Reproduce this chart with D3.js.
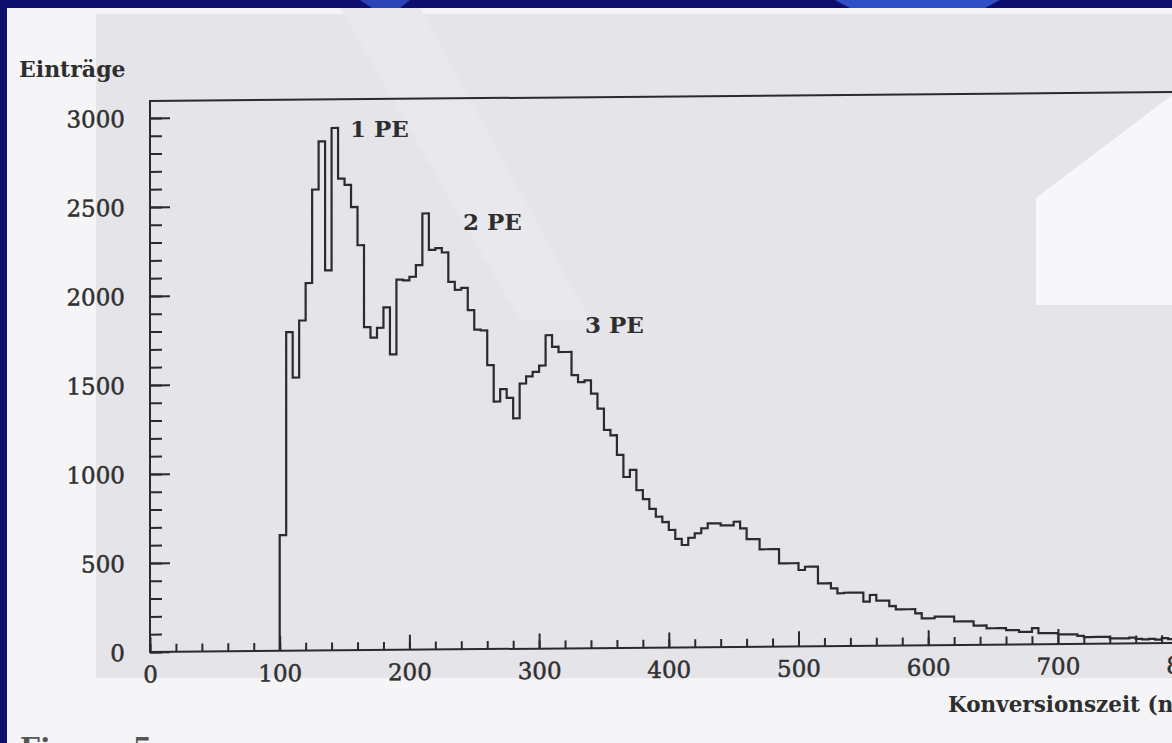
<!DOCTYPE html>
<html>
<head>
<meta charset="utf-8">
<script src="https://cdn.jsdelivr.net/npm/d3@7"></script>
<style>
  html, body { margin: 0; padding: 0; background: #f4f4f6; }
  svg { display: block; }
  .axis path { display: none; }
  .axis line { stroke: #2a2a2a; stroke-width: 2px; }
  .axis text { font-family: "DejaVu Serif", serif; font-size: 23px; fill: #303030;
               stroke: #303030; stroke-width: 0.5px; }
  .label { font-family: "DejaVu Serif", serif; font-weight: bold; fill: #2e2e2e; }
</style>
</head>
<body>
<div id="chart"></div>
<script>
// histogram: 5-unit bins starting at 100 (Konversionszeit), counts = Einträge
const binStart = 100;
const binWidth = 5;
const counts = [
  650, 1790, 1535, 1855, 2065, 2590, 2860, 2135, 2935, 2650,
  2615, 2490, 2275, 1815, 1755, 1810, 1925, 1660, 2080, 2075,
  2095, 2160, 2450, 2245, 2255, 2230, 2065, 2020, 2030, 1905,
  1795, 1790, 1595, 1390, 1460, 1410, 1295, 1490, 1530, 1555,
  1590, 1760, 1695, 1665, 1665, 1535, 1495, 1505, 1430, 1345,
  1225, 1195, 1085, 960, 1000, 885, 835, 780, 735, 705,
  660, 610, 575, 615, 640, 668, 695, 695, 683, 683,
  703, 666, 605, 605, 547, 547, 547, 467, 467, 467,
  429, 447, 447, 353, 353, 324, 296, 299, 299, 299,
  248, 285, 253, 253, 222, 203, 203, 203, 180, 151,
  151, 160, 160, 160, 132, 132, 132, 108, 108, 92,
  92, 92, 81, 81, 70, 70, 91, 62, 62, 62,
  54, 54, 54, 45, 38, 38, 38, 38, 29, 29,
  29, 33, 25, 22, 25, 20, 28, 22
];
const xMajor = [0, 100, 200, 300, 400, 500, 600, 700, 800];
const yMajor = [0, 500, 1000, 1500, 2000, 2500, 3000];
const peaks = [
  {text: "1 PE", x: 350, y: 137},
  {text: "2 PE", x: 463, y: 230},
  {text: "3 PE", x: 585, y: 333}
];

const W = 1172, H = 743;
const svg = d3.select("#chart").append("svg")
    .attr("width", W)
    .attr("height", H);

// scanned page background
svg.append("rect").attr("width", W).attr("height", H).attr("fill", "#f5f5f7");
svg.append("rect").attr("x", 96).attr("y", 14).attr("width", W - 96).attr("height", 664)
    .attr("fill", "#e5e5e9");
svg.append("polygon")
    .attr("points", "340,8 420,8 590,320 520,320")
    .attr("fill", "#e9e9ed");
svg.append("polygon")
    .attr("points", "1172,95 1036,198 1036,305 1172,305")
    .attr("fill", "#f7f7f9");
svg.append("rect").attr("x", 0).attr("y", 0).attr("width", W).attr("height", 8).attr("fill", "#0e0e6c");
svg.append("rect").attr("x", 0).attr("y", 0).attr("width", 7).attr("height", H).attr("fill", "#0e0e6c");
svg.append("polygon").attr("points", "835,0 1000,0 985,8 850,8").attr("fill", "#2f4fc8");
svg.append("polygon").attr("points", "360,0 410,0 400,8 372,8").attr("fill", "#2a44b8");

const x = d3.scaleLinear().domain([0, 800]).range([150, 150 + 800 * 1.297]);
const y = d3.scaleLinear().domain([0, 3000]).range([652, 118]);

// the scan is slightly tilted: horizontal lines drop toward the left
const g = svg.append("g")
    .attr("transform", "translate(150,652) skewY(-0.5) translate(-150,-652)");

// frame: left axis line, top border, bottom axis line
g.append("line").attr("x1", 150).attr("x2", 150).attr("y1", 101).attr("y2", 652)
    .attr("stroke", "#2a2a2a").attr("stroke-width", 2);
g.append("line").attr("x1", 149).attr("x2", 1200).attr("y1", 101).attr("y2", 101)
    .attr("stroke", "#2a2a2a").attr("stroke-width", 2);
g.append("line").attr("x1", 149).attr("x2", 1200).attr("y1", 652).attr("y2", 652)
    .attr("stroke", "#2a2a2a").attr("stroke-width", 2);

// y axis, ticks pointing inward
g.append("g").attr("class", "axis")
    .attr("transform", "translate(150,0)")
    .call(d3.axisLeft(y).tickValues(d3.range(0, 3001, 100)).tickSizeInner(-12).tickSizeOuter(0).tickFormat(""));
g.append("g").attr("class", "axis")
    .attr("transform", "translate(150,0)")
    .call(d3.axisLeft(y).tickValues(yMajor).tickSizeInner(-20).tickSizeOuter(0).tickPadding(25)
        .tickFormat(d3.format("d")))
    .selectAll("text").attr("dy", "0.36em");

// x axis
g.append("g").attr("class", "axis")
    .attr("transform", "translate(0,652)")
    .call(d3.axisBottom(x).tickValues(d3.range(0, 801, 20)).tickSizeInner(-8).tickSizeOuter(0).tickFormat(""));
g.append("g").attr("class", "axis")
    .attr("transform", "translate(0,652)")
    .call(d3.axisBottom(x).tickValues(xMajor).tickSizeInner(-15).tickSizeOuter(0).tickPadding(14)
        .tickFormat(d3.format("d")));

// histogram outline
const pts = [[binStart, 0]];
counts.forEach((c, i) => pts.push([binStart + i * binWidth, c]));
pts.push([binStart + counts.length * binWidth, counts[counts.length - 1]]);

const line = d3.line()
    .x(d => x(d[0]))
    .y(d => y(d[1]))
    .curve(d3.curveStepAfter);

g.append("path")
    .attr("d", line(pts))
    .attr("fill", "none")
    .attr("stroke", "#2b2b2b")
    .attr("stroke-width", 2.2)
    .attr("stroke-linejoin", "miter");

// labels
svg.append("text").attr("class", "label").attr("x", 19).attr("y", 77)
    .style("font-size", "22px").text("Einträge");
svg.selectAll(".peak").data(peaks).join("text")
    .attr("class", "label peak")
    .attr("x", d => d.x).attr("y", d => d.y)
    .style("font-size", "23px")
    .text(d => d.text);
svg.append("text").attr("class", "label").attr("x", 948).attr("y", 712)
    .style("font-size", "21.5px").text("Konversionszeit (ns)");
svg.append("text").attr("class", "label").attr("x", 20).attr("y", 758)
    .style("font-size", "28px").style("fill", "#555").text("Figure 5");
</script>
</body>
</html>
